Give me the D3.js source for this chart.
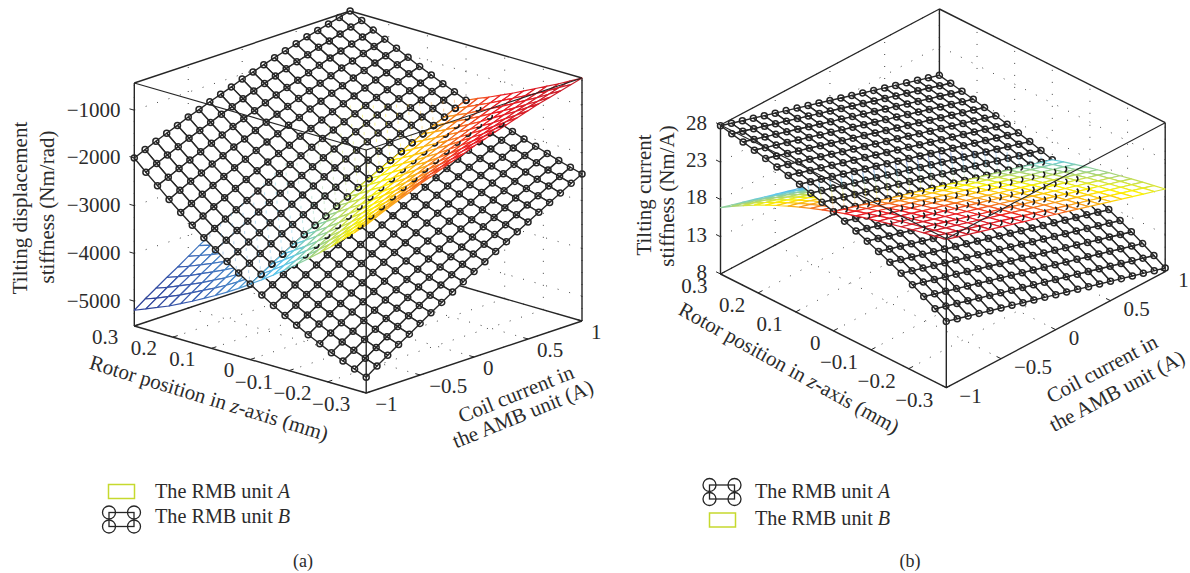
<!DOCTYPE html>
<html>
<head>
  <title>Tilting stiffness</title>
  <meta charset='utf-8'>
  <style>
    html, body { margin: 0; background: #fff; }
    text { font-family: "Liberation Serif", serif; fill: #2b2b2b; }
  </style>
</head>
<body>
  <div id="chart"></div>

  <script src="https://cdn.jsdelivr.net/npm/d3@7"></script>

  <script type="text/javascript">
    var rotorPositions = [0.3,0.27,0.24,0.21,0.18,0.15,0.12,0.09,0.06,0.03,0,-0.03,-0.06,-0.09,-0.12,-0.15,-0.18,-0.21,-0.24,-0.27,-0.3];
    var coilCurrents = [-1,-0.9,-0.8,-0.7,-0.6,-0.5,-0.4,-0.3,-0.2,-0.1,0,0.1,0.2,0.3,0.4,0.5,0.6,0.7,0.8,0.9,1];

    var rotorTicks = [0.3,0.2,0.1,0,-0.1,-0.2,-0.3];
    var rotorTickLabels = ["0.3","0.2","0.1","0","\u22120.1","\u22120.2","\u22120.3"];
    var coilTicks = [-1,-0.5,0,0.5,1];
    var coilTickLabels = ["\u22121","\u22120.5","0","0.5","1"];
    var displacementTicks = [-1000,-2000,-3000,-4000,-5000];
    var displacementTickLabels = ["\u22121000","\u22122000","\u22123000","\u22124000","\u22125000"];
    var currentTicks = [28,23,18,13,8];
    var currentTickLabels = ["28","23","18","13","8"];

    // (a) tilting displacement stiffness of unit B, one row per rotor position
    var displacementB = [
      [-2000,-1900,-1800,-1710,-1620,-1520,-1440,-1350,-1270,-1190,-1100,-1030,-950,-880,-810,-740,-670,-610,-550,-490,-430],
      [-2230,-2120,-2020,-1920,-1820,-1730,-1640,-1540,-1460,-1370,-1280,-1200,-1120,-1040,-970,-900,-820,-760,-690,-620,-560],
      [-2440,-2340,-2230,-2130,-2030,-1930,-1830,-1730,-1640,-1550,-1460,-1370,-1290,-1210,-1130,-1050,-970,-900,-830,-760,-690],
      [-2660,-2540,-2430,-2330,-2220,-2120,-2010,-1920,-1820,-1720,-1630,-1540,-1450,-1360,-1280,-1200,-1110,-1040,-960,-890,-810],
      [-2860,-2750,-2630,-2520,-2410,-2300,-2200,-2090,-1990,-1890,-1790,-1700,-1600,-1510,-1420,-1340,-1250,-1170,-1090,-1010,-930],
      [-3060,-2940,-2820,-2710,-2590,-2480,-2370,-2260,-2160,-2060,-1950,-1860,-1760,-1660,-1570,-1480,-1390,-1300,-1220,-1130,-1050],
      [-3250,-3130,-3010,-2890,-2770,-2650,-2540,-2430,-2320,-2210,-2110,-2000,-1900,-1800,-1710,-1610,-1520,-1430,-1340,-1250,-1170],
      [-3430,-3310,-3180,-3060,-2940,-2820,-2700,-2590,-2480,-2370,-2260,-2150,-2050,-1940,-1840,-1740,-1650,-1550,-1460,-1370,-1280],
      [-3610,-3480,-3350,-3230,-3100,-2980,-2860,-2740,-2630,-2510,-2400,-2290,-2180,-2080,-1970,-1870,-1770,-1670,-1580,-1480,-1390],
      [-3780,-3650,-3520,-3390,-3260,-3140,-3010,-2890,-2770,-2660,-2540,-2430,-2320,-2210,-2100,-1990,-1890,-1790,-1690,-1590,-1490],
      [-3940,-3810,-3670,-3540,-3410,-3280,-3160,-3040,-2910,-2790,-2670,-2560,-2440,-2330,-2220,-2110,-2000,-1900,-1800,-1690,-1600],
      [-4100,-3960,-3820,-3690,-3560,-3430,-3300,-3170,-3050,-2920,-2800,-2680,-2570,-2450,-2340,-2230,-2120,-2010,-1900,-1800,-1690],
      [-4250,-4110,-3970,-3830,-3700,-3560,-3430,-3300,-3180,-3050,-2930,-2800,-2680,-2570,-2450,-2340,-2220,-2110,-2000,-1900,-1790],
      [-4390,-4250,-4100,-3970,-3830,-3690,-3560,-3430,-3300,-3170,-3050,-2920,-2800,-2680,-2560,-2440,-2320,-2210,-2100,-1990,-1880],
      [-4520,-4380,-4240,-4100,-3960,-3820,-3680,-3550,-3420,-3290,-3160,-3030,-2910,-2780,-2660,-2540,-2420,-2310,-2190,-2080,-1970],
      [-4650,-4500,-4360,-4220,-4080,-3940,-3800,-3660,-3530,-3400,-3270,-3140,-3010,-2890,-2760,-2640,-2520,-2400,-2290,-2170,-2060],
      [-4770,-4620,-4480,-4330,-4190,-4050,-3910,-3770,-3640,-3500,-3370,-3240,-3110,-2980,-2860,-2730,-2610,-2490,-2370,-2260,-2140],
      [-4890,-4740,-4590,-4440,-4300,-4160,-4020,-3880,-3740,-3600,-3470,-3340,-3200,-3080,-2950,-2820,-2700,-2580,-2460,-2340,-2220],
      [-4990,-4840,-4690,-4550,-4400,-4260,-4110,-3970,-3840,-3700,-3560,-3430,-3300,-3160,-3040,-2910,-2780,-2660,-2540,-2420,-2300],
      [-5090,-4940,-4790,-4640,-4500,-4350,-4210,-4070,-3930,-3790,-3650,-3510,-3380,-3250,-3120,-2990,-2860,-2740,-2610,-2490,-2370],
      [-5190,-5030,-4880,-4730,-4590,-4440,-4290,-4150,-4010,-3870,-3730,-3600,-3460,-3330,-3200,-3070,-2940,-2810,-2690,-2560,-2440]
    ];

    // (b) tilting current stiffness of unit A
    var currentA = [
      [27.90,27.46,27.02,26.58,26.14,25.70,25.26,24.82,24.38,23.94,23.50,23.06,22.62,22.18,21.74,21.30,20.86,20.42,19.98,19.54,19.10],
      [27.58,27.14,26.70,26.26,25.82,25.39,24.95,24.51,24.07,23.63,23.19,22.75,22.31,21.87,21.43,20.99,20.56,20.12,19.68,19.24,18.80],
      [27.25,26.81,26.37,25.94,25.50,25.06,24.62,24.18,23.75,23.31,22.87,22.43,21.99,21.56,21.12,20.68,20.24,19.80,19.37,18.93,18.49],
      [26.91,26.47,26.04,25.60,25.16,24.73,24.29,23.85,23.41,22.98,22.54,22.10,21.67,21.23,20.79,20.36,19.92,19.48,19.04,18.61,18.17],
      [26.55,26.11,25.68,25.24,24.81,24.37,23.93,23.50,23.06,22.63,22.19,21.75,21.32,20.88,20.45,20.01,19.57,19.14,18.70,18.27,17.83],
      [26.18,25.75,25.31,24.88,24.44,24.01,23.57,23.14,22.70,22.27,21.83,21.40,20.96,20.53,20.09,19.66,19.22,18.79,18.35,17.92,17.48],
      [25.79,25.36,24.92,24.49,24.05,23.62,23.19,22.75,22.32,21.88,21.45,21.02,20.58,20.15,19.71,19.28,18.85,18.41,17.98,17.54,17.11],
      [25.38,24.95,24.51,24.08,23.65,23.22,22.78,22.35,21.92,21.48,21.05,20.62,20.18,19.75,19.32,18.89,18.45,18.02,17.59,17.15,16.72],
      [24.95,24.52,24.09,23.65,23.22,22.79,22.36,21.93,21.49,21.06,20.63,20.20,19.77,19.33,18.90,18.47,18.04,17.61,17.17,16.74,16.31],
      [24.49,24.06,23.63,23.20,22.77,22.34,21.90,21.47,21.04,20.61,20.18,19.75,19.32,18.89,18.46,18.03,17.59,17.16,16.73,16.30,15.87],
      [24.00,23.57,23.14,22.71,22.28,21.85,21.42,20.99,20.56,20.13,19.70,19.27,18.84,18.41,17.98,17.55,17.12,16.69,16.26,15.83,15.40],
      [23.48,23.05,22.62,22.19,21.76,21.34,20.91,20.48,20.05,19.62,19.19,18.76,18.33,17.90,17.47,17.05,16.62,16.19,15.76,15.33,14.90],
      [22.92,22.49,22.06,21.64,21.21,20.78,20.35,19.92,19.50,19.07,18.64,18.21,17.78,17.36,16.93,16.50,16.07,15.64,15.22,14.79,14.36],
      [22.33,21.90,21.48,21.05,20.62,20.20,19.77,19.34,18.91,18.49,18.06,17.63,17.21,16.78,16.35,15.93,15.50,15.07,14.64,14.22,13.79],
      [21.70,21.27,20.85,20.42,20.00,19.57,19.14,18.72,18.29,17.87,17.44,17.01,16.59,16.16,15.74,15.31,14.88,14.46,14.03,13.61,13.18],
      [21.02,20.60,20.17,19.75,19.32,18.90,18.47,18.05,17.62,17.20,16.77,16.35,15.92,15.50,15.07,14.65,14.22,13.80,13.37,12.95,12.52],
      [20.30,19.88,19.45,19.03,18.60,18.18,17.76,17.33,16.91,16.48,16.06,15.64,15.21,14.79,14.36,13.94,13.52,13.09,12.67,12.24,11.82],
      [19.53,19.11,18.68,18.26,17.84,17.42,16.99,16.57,16.15,15.72,15.30,14.88,14.45,14.03,13.61,13.19,12.76,12.34,11.92,11.49,11.07],
      [18.71,18.29,17.87,17.44,17.02,16.60,16.18,15.76,15.33,14.91,14.49,14.07,13.65,13.22,12.80,12.38,11.96,11.54,11.11,10.69,10.27],
      [17.83,17.41,16.99,16.57,16.15,15.73,15.30,14.88,14.46,14.04,13.62,13.20,12.78,12.36,11.94,11.52,11.09,10.67,10.25,9.83,9.41],
      [16.90,16.48,16.06,15.64,15.22,14.80,14.38,13.96,13.54,13.12,12.70,12.28,11.86,11.44,11.02,10.60,10.18,9.76,9.34,8.92,8.50]
    ];

    // the other unit is the same surface mirrored about z = 0
    var displacementA = displacementB.slice().reverse();
    var currentB = currentA.slice().reverse();

    var jetStops = [0, 0.125, 0.36, 0.48, 0.6, 0.71, 0.82, 1];
    var jetColors = ["#2b3990", "#3a5cb0", "#5cc8ee", "#a5d37c", "#fff200", "#f89c1c", "#ed1c24", "#c2202c"];

    var ink = "#262626";

    var svg = d3.select("#chart").append("svg")
        .attr("width", 1190)
        .attr("height", 573)
        .style("display", "block");

    function drawPanel(p) {
      var g = svg.append("g");

      var xScale = d3.scaleLinear().domain([0.3, -0.3]).range([0, 1]);
      var yScale = d3.scaleLinear().domain([-1, 1]).range([0, 1]);
      var zScale = d3.scaleLinear().domain(p.zDomain).range([0, 1]);

      var ax = p.front[0] - p.left[0], ay = p.front[1] - p.left[1];
      var bx = p.right[0] - p.front[0], by = p.right[1] - p.front[1];

      // depth along the line of sight, bigger is nearer
      var ns = -ax / bx, nz = (ay + by * ns) / p.height;

      function project(x, y, z) {
        var t = xScale(x), s = yScale(y), h = zScale(z);
        return [p.left[0] + ax * t + bx * s, p.left[1] + ay * t + by * s - p.height * h];
      }
      function depth(x, y, z) {
        return xScale(x) + ns * yScale(y) + nz * zScale(z);
      }

      var line = d3.line();
      function segment(a, b, width, color) {
        return g.append("path").attr("d", line([a, b])).attr("fill", "none")
            .attr("stroke", color || ink).attr("stroke-width", width);
      }

      var zMin = p.zDomain[0], zMax = p.zDomain[1];

      // dotted grid on the floor and the two back walls
      var grid = [];
      p.xTicks.forEach(function(x) {
        grid.push([project(x, -1, zMin), project(x, 1, zMin)]);
        grid.push([project(x, 1, zMin), project(x, 1, zMax)]);
      });
      p.yTicks.forEach(function(y) {
        grid.push([project(0.3, y, zMin), project(-0.3, y, zMin)]);
        grid.push([project(0.3, y, zMin), project(0.3, y, zMax)]);
      });
      p.zTicks.forEach(function(z) {
        grid.push([project(0.3, -1, z), project(0.3, 1, z)]);
        grid.push([project(0.3, 1, z), project(-0.3, 1, z)]);
      });
      g.append("g").selectAll("path").data(grid).join("path")
          .attr("d", line).attr("fill", "none")
          .attr("stroke", "#444").attr("stroke-width", 1)
          .attr("stroke-dasharray", "1 11");

      // back of the box
      [[[0.3, -1, zMin], [0.3, 1, zMin]], [[0.3, 1, zMin], [-0.3, 1, zMin]],
       [[0.3, -1, zMax], [0.3, 1, zMax]], [[0.3, 1, zMax], [-0.3, 1, zMax]],
       [[0.3, 1, zMin], [0.3, 1, zMax]],
       [[0.3, -1, zMin], [0.3, -1, zMax]], [[-0.3, 1, zMin], [-0.3, 1, zMax]]].forEach(function(e) {
        segment(project.apply(null, e[0]), project.apply(null, e[1]), 1.4);
      });

      // surfaces, painted back to front
      var colorValues = d3.merge(p.mesh);
      var colorExtent = d3.extent(colorValues);
      var jet = d3.scaleLinear()
          .domain(jetStops.map(function(v) { return colorExtent[0] + v * (colorExtent[1] - colorExtent[0]); }))
          .range(jetColors);

      function cells(matrix, color) {
        var out = [];
        for (var i = 0; i < rotorPositions.length - 1; i++) {
          for (var j = 0; j < coilCurrents.length - 1; j++) {
            var zs = [matrix[i][j], matrix[i + 1][j], matrix[i + 1][j + 1], matrix[i][j + 1]];
            var x0 = rotorPositions[i], x1 = rotorPositions[i + 1];
            var y0 = coilCurrents[j], y1 = coilCurrents[j + 1];
            var quad = [project(x0, y0, zs[0]), project(x1, y0, zs[1]), project(x1, y1, zs[2]), project(x0, y1, zs[3])];
            out.push({
              quad: quad,
              key: depth((x0 + x1) / 2, (y0 + y1) / 2, d3.mean(zs)),
              d: line(quad) + "Z",
              fill: "#fff",
              stroke: color ? color(d3.mean(zs)) : ink,
              width: color ? 1.2 : 1.4
            });
          }
        }
        return out;
      }

      function vertices(matrix) {
        var out = [];
        matrix.forEach(function(row, i) {
          row.forEach(function(z, j) {
            out.push({
              pos: project(rotorPositions[i], coilCurrents[j], z),
              key: depth(rotorPositions[i], coilCurrents[j], z),
              z: z
            });
          });
        });
        return out;
      }

      var blackCells = cells(p.black), meshCells = cells(p.mesh, jet);
      var blackVertices = vertices(p.black), meshVertices = vertices(p.mesh);

      function hiddenBy(v, quads) {
        return quads.some(function(c) {
          return c.key > v.key && d3.polygonContains(c.quad, v.pos);
        });
      }

      var markers = blackVertices.map(function(v) {
        var m = d3.path();
        m.moveTo(v.pos[0] + 3, v.pos[1]);
        m.arc(v.pos[0], v.pos[1], 3, 0, 2 * Math.PI);
        return { key: v.key + 0.08, d: m.toString(), fill: "none", stroke: ink, width: 1.5 };
      });

      var items = d3.merge([blackCells, meshCells, markers]);
      items.sort(function(a, b) { return a.key - b.key; });

      g.append("g").selectAll("path").data(items).join("path")
          .attr("d", function(d) { return d.d; })
          .attr("fill", function(d) { return d.fill; })
          .attr("stroke", function(d) { return d.stroke; })
          .attr("stroke-width", function(d) { return d.width; })
          .attr("stroke-linejoin", "round");

      // bits of the hidden surface that still show through, as in the original export
      var arcs = blackVertices.filter(function(v) { return hiddenBy(v, meshCells); });
      g.append("g").selectAll("path").data(arcs).join("path")
          .attr("d", function(v) {
            var m = d3.path();
            var a0 = p.arc[0] * Math.PI / 180, a1 = p.arc[1] * Math.PI / 180;
            m.moveTo(v.pos[0] + 3 * Math.cos(a0), v.pos[1] + 3 * Math.sin(a0));
            m.arc(v.pos[0], v.pos[1], 3, a0, a1);
            return m.toString();
          })
          .attr("fill", "none").attr("stroke", "#1c1c1c").attr("stroke-width", 1.6);

      var specks = meshVertices.filter(function(v) { return hiddenBy(v, blackCells); });
      g.append("g").selectAll("path").data(specks).join("path")
          .attr("d", function(v) { return line([[v.pos[0], v.pos[1] - 1.5], [v.pos[0], v.pos[1] + 1.5]]); })
          .attr("stroke", function(v) { return jet(v.z); })
          .attr("stroke-width", 1).attr("opacity", 0.4);

      // front of the box
      segment(project(0.3, -1, zMax), project(-0.3, -1, zMax), 1.1);
      segment(project(-0.3, 1, zMax), project(-0.3, -1, zMax), 1.1);
      segment(project(-0.3, -1, zMin), project(-0.3, -1, zMax), 1.4);
      segment(project(0.3, -1, zMin), project(-0.3, -1, zMin), 1.4);
      segment(project(-0.3, -1, zMin), project(-0.3, 1, zMin), 1.4);

      // ticks follow the box edges
      var alen = Math.hypot(ax, ay), blen = Math.hypot(bx, by);
      p.zTicks.forEach(function(z, i) {
        var a = project(0.3, -1, z);
        segment(a, [a[0] - ax / alen * 5, a[1] - ay / alen * 5], 1);
        g.append("text").attr("x", p.zLabelX).attr("y", a[1] + p.zLabelDy).attr("dy", "0.33em")
            .attr("text-anchor", "end").attr("font-size", 21).text(p.zLabels[i]);
      });
      p.xTicks.forEach(function(x, i) {
        var a = project(x, -1, zMin);
        segment(a, [a[0] + bx / blen * 5, a[1] + by / blen * 5], 1);
        g.append("text").attr("x", a[0] + p.xLabelOffset[0]).attr("y", a[1] + p.xLabelOffset[1]).attr("dy", "0.33em")
            .attr("text-anchor", "end").attr("font-size", 21).text(p.xLabels[i]);
      });
      p.yTicks.forEach(function(y, i) {
        var a = project(-0.3, y, zMin);
        segment(a, [a[0] - ax / alen * 5, a[1] - ay / alen * 5], 1);
        g.append("text").attr("x", a[0] + p.yLabelOffset[0]).attr("y", a[1] + p.yLabelOffset[1]).attr("dy", "0.33em")
            .attr("text-anchor", "start").attr("font-size", 21).text(p.yLabels[i]);
      });

      p.titles.forEach(function(t) {
        label(g, t.parts, t.x, t.y, t.angle);
      });

      p.legend.forEach(function(l) {
        if (l.kind === "mesh") {
          g.append("rect").attr("x", l.x).attr("y", l.y).attr("width", 26).attr("height", 14)
              .attr("fill", "none").attr("stroke", "#c6d92e").attr("stroke-width", 1.5);
        } else {
          g.append("rect").attr("x", l.x).attr("y", l.y).attr("width", 25).attr("height", 14)
              .attr("fill", "none").attr("stroke", ink).attr("stroke-width", 1.3);
          [[0, 0], [25, 0], [0, 14], [25, 14]].forEach(function(c) {
            g.append("circle").attr("cx", l.x + c[0]).attr("cy", l.y + c[1]).attr("r", 6.5)
                .attr("fill", "none").attr("stroke", ink).attr("stroke-width", 1.3);
          });
        }
        var t = g.append("text").attr("x", l.textX).attr("y", l.textY).attr("font-size", 20.2);
        t.append("tspan").text("The RMB unit ");
        t.append("tspan").attr("font-style", "italic").text(l.unit);
      });

      g.append("text").attr("x", p.caption[0]).attr("y", p.caption[1])
          .attr("text-anchor", "middle").attr("font-size", 18).text(p.caption[2]);
    }

    function label(g, parts, x, y, angle) {
      var t = g.append("text").attr("text-anchor", "middle").attr("font-size", 21)
          .attr("dy", "0.33em")
          .attr("transform", "translate(" + x + "," + y + ") rotate(" + angle + ")");
      parts.forEach(function(part) {
        t.append("tspan").attr("font-style", part[1] ? "italic" : "normal").text(part[0]);
      });
    }

    drawPanel({
      left: [134.3, 326], front: [366.2, 393], right: [582, 321], height: 243,
      zDomain: [-5520, -430],
      black: displacementB, mesh: displacementA,
      xTicks: rotorTicks, xLabels: rotorTickLabels,
      yTicks: coilTicks, yLabels: coilTickLabels,
      zTicks: displacementTicks, zLabels: displacementTickLabels,
      zLabelX: 120.5, zLabelDy: -0.5, xLabelOffset: [-16, 11], yLabelOffset: [9, 11],
      arc: [-20, 130],
      titles: [
        { parts: [["Tilting displacement", false]], x: 20, y: 208, angle: -90 },
        { parts: [["stiffness (Nm/rad)", false]], x: 47, y: 207, angle: -90 },
        { parts: [["Rotor position in ", false], ["z", true], ["-axis (mm)", false]], x: 209, y: 398, angle: 17 },
        { parts: [["Coil current in", false]], x: 516, y: 394, angle: -22 },
        { parts: [["the AMB unit (A)", false]], x: 523, y: 414, angle: -22 }
      ],
      legend: [
        { kind: "mesh", unit: "A", x: 108.5, y: 484.5, textX: 155, textY: 498 },
        { kind: "black", unit: "B", x: 109, y: 512.5, textX: 155, textY: 523 }
      ],
      caption: [303, 567, "(a)"]
    });

    drawPanel({
      left: [720.5, 274], front: [946.3, 387.7], right: [1165.2, 271.7], height: 149,
      zDomain: [8, 28],
      black: currentA, mesh: currentB,
      xTicks: rotorTicks, xLabels: rotorTickLabels,
      yTicks: coilTicks, yLabels: coilTickLabels,
      zTicks: currentTicks, zLabels: currentTickLabels,
      zLabelX: 707, zLabelDy: -2, xLabelOffset: [-13, 12], yLabelOffset: [13, 8],
      arc: [-60, 70],
      titles: [
        { parts: [["Tilting current", false]], x: 644, y: 195, angle: -90 },
        { parts: [["stiffness (Nm/A)", false]], x: 667.5, y: 196, angle: -90 },
        { parts: [["Rotor position in ", false], ["z", true], ["-axis (mm)", false]], x: 789, y: 368, angle: 29 },
        { parts: [["Coil current in", false]], x: 1102, y: 369, angle: -28 },
        { parts: [["the AMB unit (A)", false]], x: 1117, y: 391, angle: -28 }
      ],
      legend: [
        { kind: "black", unit: "A", x: 709.5, y: 485, textX: 755, textY: 498 },
        { kind: "mesh", unit: "B", x: 709.5, y: 513, textX: 755, textY: 525 }
      ],
      caption: [910, 567, "(b)"]
    });
  </script>
</body>
</html>
